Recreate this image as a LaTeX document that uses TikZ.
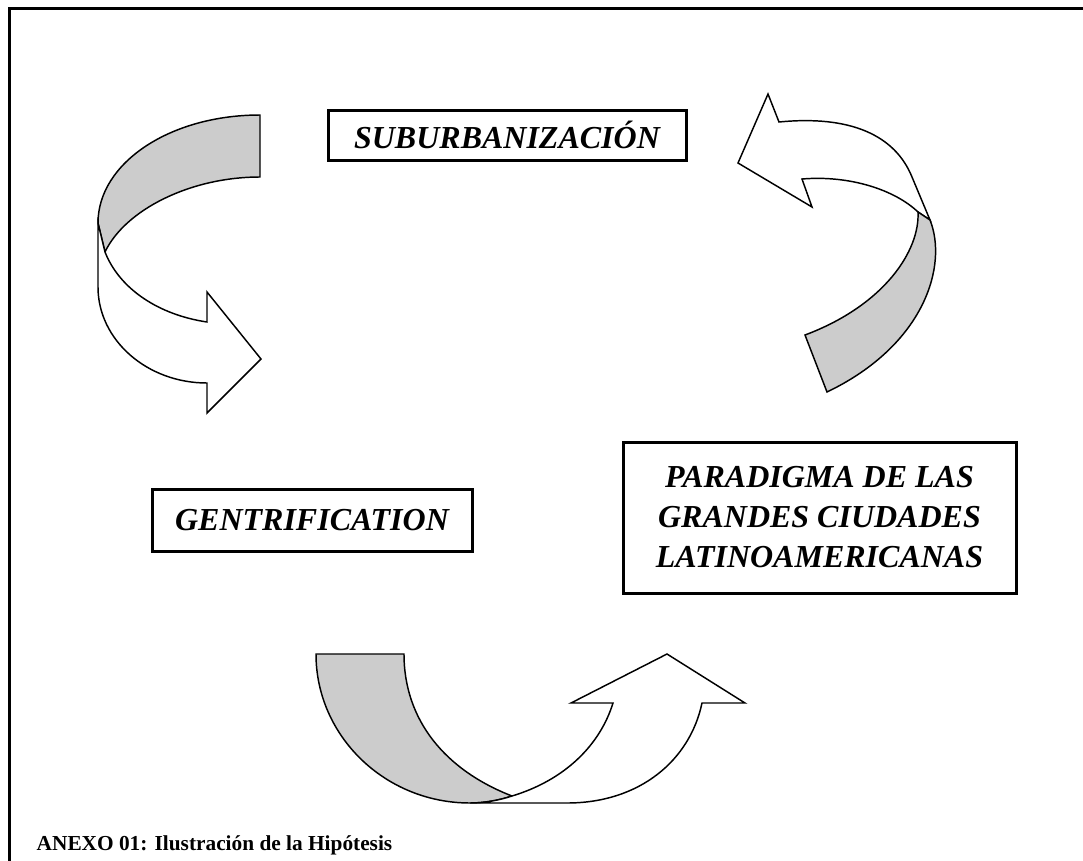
\documentclass[tikz,border=0pt]{standalone}
\usepackage{fontspec}
\setmainfont{Liberation Serif}
\definecolor{bandgray}{RGB}{204,204,204}
\begin{document}
\begin{tikzpicture}[x=0.75pt,y=-0.75pt,
    concept/.style={draw, line width=2.25pt, inner sep=0pt, align=center,
        font=\fontsize{24}{30}\selectfont\bfseries\itshape},
    backband/.style={draw, line width=1.1pt, fill=bandgray},
    frontband/.style={draw, line width=1.1pt, fill=white}]

\useasboundingbox (0,0) rectangle (1083,861);
\draw[line width=2.25pt] (9,861) -- (9,8) -- (1083,8);

\node[concept, minimum width=268.5pt, minimum height=37.5pt] (suburb) at (507,135) {SUBURBANIZACIÓN};
\node[concept, minimum width=240pt, minimum height=46.5pt] (gentri) at (312,520) {GENTRIFICATION};
\node[concept, minimum width=294.75pt, minimum height=113.25pt] (paradigma) at (819.5,517.5)
    {PARADIGMA DE LAS\\ GRANDES CIUDADES\\ LATINOAMERICANAS};

% left arrow
\draw[backband] (260,115) -- (260,177) .. controls (190,177) and (125,210) .. (105,252)
    -- (98,223) .. controls (98,163) and (170,115) .. (260,115) -- cycle;
\draw[frontband] (98,223) -- (98,287) .. controls (98,340) and (147,383) .. (207,383)
    -- (207,413) -- (261,359) -- (207,292) -- (207,322)
    .. controls (160,315) and (120,290) .. (105,252) -- cycle;

% right arrow
\draw[frontband] (802,179) -- (812,207) -- (738,163) -- (768,94) -- (779,122)
    .. controls (850,115) and (895,135) .. (912,177) -- (930,220) -- (918,212)
    .. controls (895,190) and (850,175) .. (802,179) -- cycle;
\draw[backband] (918,212) -- (930,220) .. controls (948,265) and (925,345) .. (827,392)
    -- (805,335) .. controls (885,305) and (920,250) .. (918,212) -- cycle;

% bottom arrow
\draw[backband] (316,654) -- (404,654) .. controls (404,720) and (445,770) .. (512,796)
    .. controls (500,800) and (485,803) .. (470,803)
    .. controls (385,803) and (316,736) .. (316,654) -- cycle;
\draw[frontband] (470,803) .. controls (485,803) and (500,800) .. (512,796)
    .. controls (565,780) and (600,745) .. (613,703) -- (571,703) -- (667,654)
    -- (745,703) -- (702,703) .. controls (690,760) and (640,803) .. (567,803) -- cycle;

\node[anchor=base west, font=\fontsize{16}{19}\selectfont\bfseries] (caption) at (32,850)
    {ANEXO 01: Ilustración de la Hipótesis};

\end{tikzpicture}
\end{document}
